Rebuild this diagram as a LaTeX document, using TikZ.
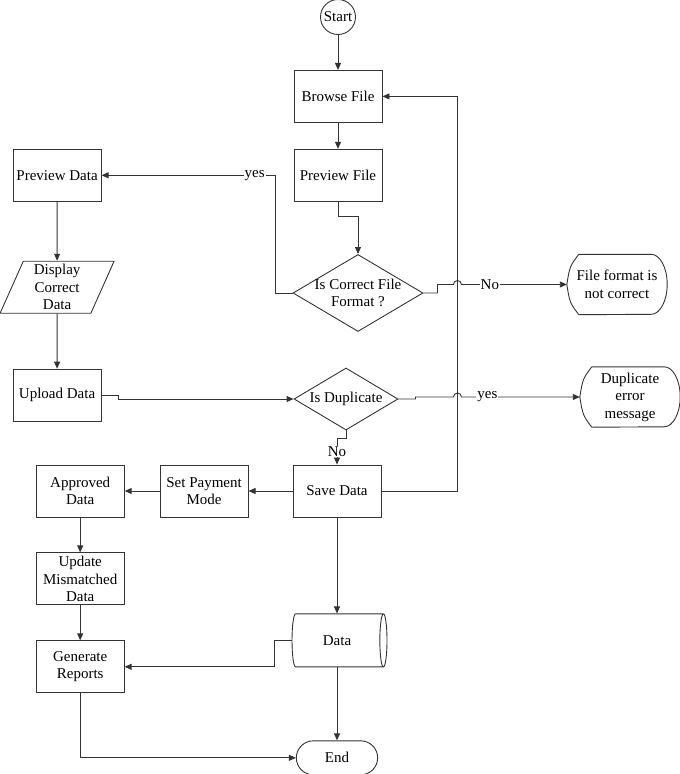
\documentclass[tikz,border=0pt]{standalone}
\usepackage{fontspec}
\setmainfont{Liberation Serif}[Ligatures=TeX]
\usetikzlibrary{positioning,shapes.geometric,shapes.misc,arrows.meta}

% outline of the display symbol round a plain node
\newcommand{\dispshape}[1]{%
  \draw[wire] ([xshift=12pt]#1.north west) -- ([xshift=-16pt]#1.north east)
    arc[start angle=90, end angle=-90, x radius=16, y radius=30]
    -- ([xshift=12pt]#1.south west)
    .. controls ([xshift=3pt,yshift=12pt]#1.south west) .. (#1.west)
    .. controls ([xshift=3pt,yshift=-12pt]#1.north west) .. ([xshift=12pt]#1.north west);}

\begin{document}
\begin{tikzpicture}[x=1pt, y=1pt, font=\rmfamily\fontsize{15}{17.5}\selectfont,
    wire/.style={draw=black!80, line width=0.9pt},
    flow/.style={wire, -{Triangle[length=7pt,width=6pt]}},
    box/.style={wire, rectangle, minimum width=88pt, minimum height=52pt, inner sep=1pt, align=center},
    decision/.style={wire, diamond, inner sep=0pt},
    display/.style={minimum width=100pt, minimum height=60pt, inner sep=0pt, align=center},
    lbl/.style={fill=white, inner sep=1pt}]
    \useasboundingbox (0,0) rectangle (680,-774);

    \node[wire, circle, minimum size=35pt, inner sep=0pt] (start) at (338,-17) {Start};
    \node[box, below=35pt of start] (browse) {Browse File};
    \node[box, below=26pt of browse] (prevfile) {Preview File};
    \node[decision, minimum width=130pt, minimum height=77pt,
          label={[align=center]center:Is Correct File\\Format ?}] (format) at (358,-293) {};
    \node[box, left=192pt of prevfile] (prevdata) {Preview Data};
    \node[wire, trapezium, trapezium left angle=63, trapezium right angle=117, trapezium stretches body,
          minimum width=114pt, minimum height=52pt, inner sep=0pt, align=center,
          below=59pt of prevdata] (display) {Display\\Correct\\Data};
    \node[box, below=55pt of display] (upload) {Upload Data};
    \node[decision, minimum width=104pt, minimum height=62pt,
          label=center:Is Duplicate] (dup) at (346,-399) {};
    \node[box] (save) at (337,-491) {Save Data};
    \node[box, left=44pt of save] (payment) {Set Payment\\Mode};
    \node[box, left=35pt of payment] (approved) {Approved\\Data};
    \node[box, below=35pt of approved] (update) {Update\\Mismatched\\Data};
    \node[box, below=35pt of update] (reports) {Generate\\Reports};
    \node[wire, cylinder, shape border rotate=0, aspect=0.6, minimum width=53pt, minimum height=95pt,
          inner sep=1pt, below=96pt of save] (db) {Data};
    \node[wire, rounded rectangle, minimum width=88pt, minimum height=34pt, below=73pt of db] (stop) {End};
    \node[display] (badfmt) at (617,-284.5) {File format is\\not correct};
    \node[display] (dupmsg) at (630,-397) {Duplicate\\error\\message};
    \dispshape{badfmt}
    \dispshape{dupmsg}

    \coordinate (loop) at ([xshift=76pt]save.east);

    \draw[flow] (start) -- (browse);
    \draw[flow] (browse) -- (prevfile);
    \draw[flow] (prevfile.south) -- ++(0,-15) -| (format.north);
    \draw[flow] (format.west) -- ++(-17,0) |- node[lbl, pos=0.56] {yes} (prevdata.east);
    \draw[flow] (prevdata) -- (display);
    \draw[flow] (display) -- (upload);
    \draw[flow] (upload.east) -- ++(17,0) |- (dup.west);
    \draw[flow] (save.east) -- (loop) |- (browse.east);
    \draw[flow] (format.east) -- ++(14,0) |- ([xshift=-4pt]loop |- badfmt.west)
        arc[start angle=180, end angle=0, radius=4] -- node[lbl, pos=0.27] {No} (badfmt.west);
    \draw[flow] (dup.east) -- ++(17,0) |- ([xshift=-4pt]loop |- dupmsg.west)
        arc[start angle=180, end angle=0, radius=4] -- node[lbl, pos=0.22] {yes} (dupmsg.west);
    \draw[flow] (dup.south) -- ++(0,-8) -| node[lbl, pos=0.75] {No} (save.north);
    \draw[flow] (save) -- (payment);
    \draw[flow] (payment) -- (approved);
    \draw[flow] (approved) -- (update);
    \draw[flow] (update) -- (reports);
    \draw[flow] (save.south) -- (db.north);
    \draw[flow] (db.west) -- ++(-17,0) |- (reports.east);
    \draw[flow] (db.south) -- (stop.north);
    \draw[flow] (reports.south) |- (stop.west);
\end{tikzpicture}
\end{document}
